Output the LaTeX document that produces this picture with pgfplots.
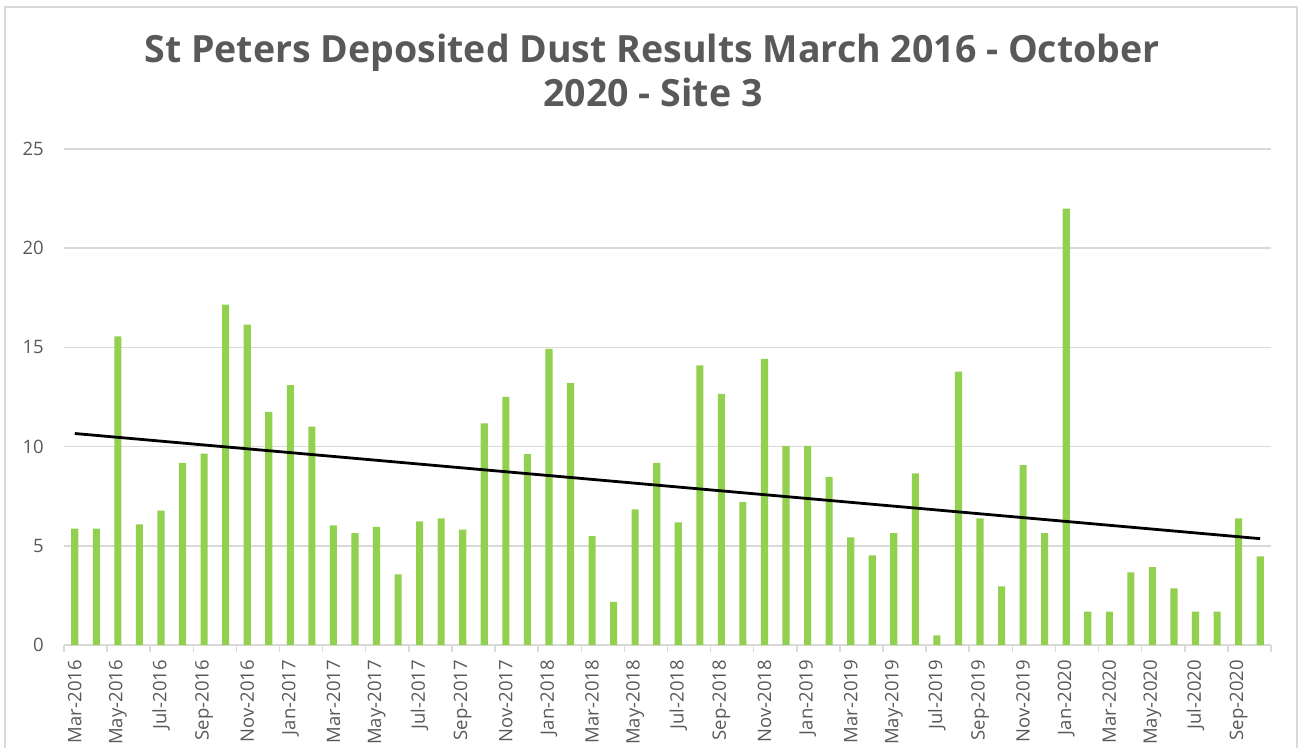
\documentclass[border=0pt]{standalone}
\usepackage{pgfplots}
\pgfplotsset{compat=1.18}
\usepackage{pgfplotstable}
\usepackage{fontspec}
\setmainfont{Open Sans}
\definecolor{bargreen}{HTML}{92D050}
\definecolor{gridgray}{HTML}{D9D9D9}
\definecolor{txtgray}{HTML}{595959}
\pgfplotstableread{
x y
0 5.86
1 5.86
2 15.55
3 6.08
4 6.77
5 9.18
6 9.65
7 17.16
8 16.15
9 11.75
10 13.10
11 11.01
12 6.03
13 5.64
14 5.96
15 3.56
16 6.23
17 6.38
18 5.81
19 11.17
20 12.51
21 9.62
22 14.93
23 13.20
24 5.49
25 2.17
26 6.83
27 9.18
28 6.18
29 14.10
30 12.66
31 7.20
32 14.42
33 10.04
34 10.04
35 8.48
36 5.42
37 4.52
38 5.64
39 8.65
40 0.49
41 13.78
42 6.38
43 2.95
44 9.07
45 5.64
46 22.00
47 1.68
48 1.68
49 3.66
50 3.93
51 2.85
52 1.68
53 1.68
54 6.38
55 4.47
}\dusttable
\begin{document}
\begin{tikzpicture}[x=1pt,y=1pt]
\useasboundingbox (0,0) rectangle (1298,747);
\draw[gridgray, line width=1.5pt] (5,-20) rectangle (1297,740);
\node[anchor=base, text=txtgray, font=\fontsize{37.5}{42}\selectfont\bfseries] at (652,684) {St Peters Deposited Dust Results March 2016 - October};
\node[anchor=base, text=txtgray, font=\fontsize{37.5}{42}\selectfont\bfseries] at (653,640) {2020 - Site 3};
\begin{axis}[
  at={(64pt,102pt)}, anchor=south west,
  scale only axis, width=1207pt, height=496pt,
  xmin=-0.5, xmax=55.5, ymin=0, ymax=25,
  axis lines*=left,
  x axis line style={draw=gridgray, line width=1.5pt, -},
  y axis line style={draw=none},
  ytick={0,5,...,25},
  ymajorgrids, grid style={gridgray, line width=1.5pt},
  major tick length=0pt,
  tick style={draw=gridgray, line width=1.5pt},
  xtick={0,2,...,54},
  xticklabels={Mar-2016,May-2016,Jul-2016,Sep-2016,Nov-2016,Jan-2017,Mar-2017,May-2017,Jul-2017,Sep-2017,Nov-2017,Jan-2018,Mar-2018,May-2018,Jul-2018,Sep-2018,Nov-2018,Jan-2019,Mar-2019,May-2019,Jul-2019,Sep-2019,Nov-2019,Jan-2020,Mar-2020,May-2020,Jul-2020,Sep-2020},
  extra x ticks={-0.5,1.5,...,55.5},
  extra x tick labels={},
  extra x tick style={major tick length=7pt, tick align=outside},
  ticklabel style={font=\fontsize{18.5}{22}\selectfont, text=txtgray},
  /pgf/number format/assume math mode=true,
  xticklabel style={rotate=90, anchor=east, inner sep=0pt, xshift=-15pt},
  yticklabel style={anchor=east, inner sep=0pt, xshift=-20pt},
  clip=false,
]
\addplot[ybar, bar width=0.33, fill=bargreen, draw=none] table[x=x,y=y] {\dusttable};
\addplot[black, line width=2.8pt] coordinates {(0,10.66) (55,5.36)};
\end{axis}
\end{tikzpicture}
\end{document}
